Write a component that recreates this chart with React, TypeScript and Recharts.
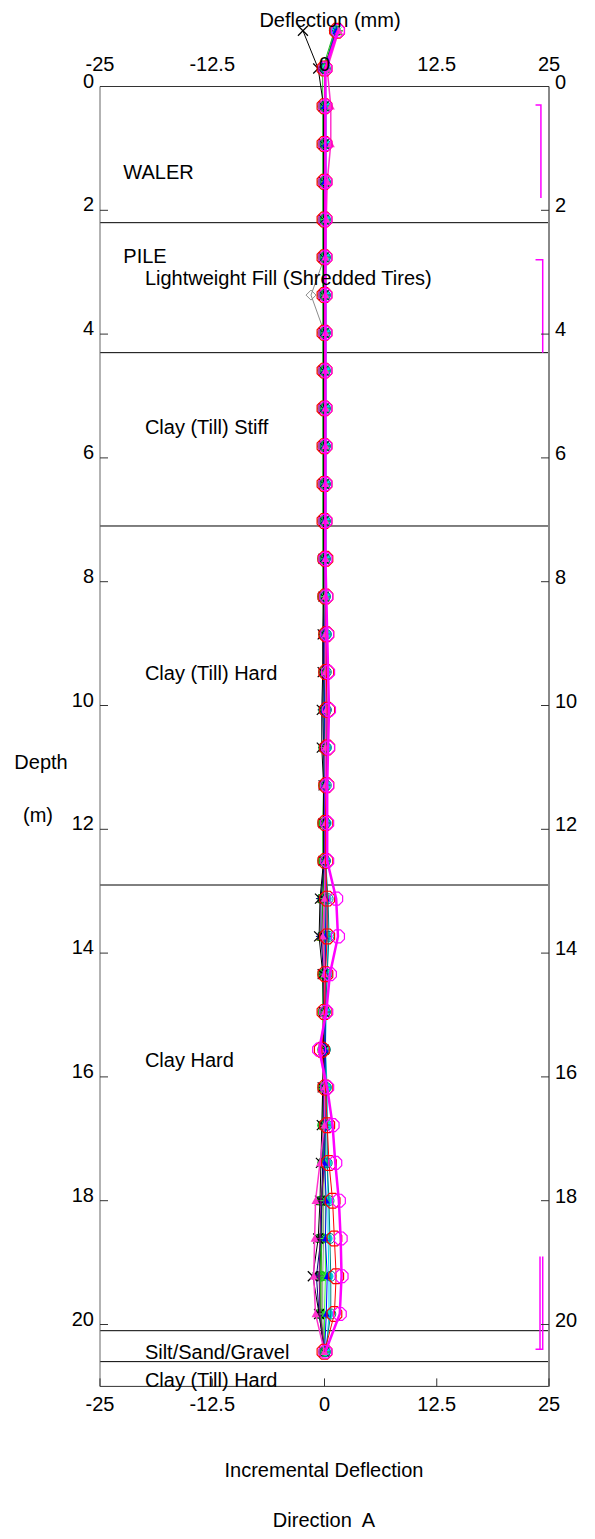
import React from 'react';
import { ScatterChart, Scatter, XAxis, YAxis, ReferenceLine, ReferenceDot } from 'recharts';

// ---------- data ----------
const DEPTHS = [-0.9, -0.29, 0.32, 0.93, 1.54, 2.15, 2.76, 3.37, 3.98, 4.59, 5.2, 5.81, 6.42, 7.02, 7.63, 8.24, 8.85, 9.46, 10.07, 10.68, 11.29, 11.9, 12.51, 13.12, 13.73, 14.34, 14.95, 15.56, 16.17, 16.78, 17.39, 18.0, 18.61, 19.22, 19.83, 20.44];

const X_TICKS = [-25, -12.5, 0, 12.5, 25];
const Y_TICKS = [0, 2, 4, 6, 8, 10, 12, 14, 16, 18, 20];

const LAYER_BOUNDS = [2.2, 4.3, 7.1, 12.9, 20.1, 20.6];
const LAYER_NAMES = ['WALER', 'PILE', 'Lightweight Fill (Shredded Tires)', 'Clay (Till) Stiff', 'Clay (Till) Hard', 'Clay Hard', 'Silt/Sand/Gravel', 'Clay (Till) Hard'];
const LAYER_LABEL_DEPTHS = [1.38, 2.74, 3.1, 5.5, 9.47, 15.73, 20.44, 20.9];
const LAYER_LABEL_X = [-22.4, -22.4, -20, -20, -20, -20, -20, -20];

const S_RED = [1.4, 0.0, 0.0, 0.0, 0.0, 0.0, 0.0, 0.0, 0.0, 0.0, 0.0, 0.0, 0.0, 0.0, 0.1, 0.1, 0.2, 0.2, 0.3, 0.3, 0.2, 0.1, 0.1, 0.3, 0.3, 0.1, 0.0, -0.3, 0.1, 0.3, 0.5, 0.9, 1.1, 1.3, 1.1, 0.0];
const S_MAGENTA = [1.5, 0.1, 0.1, 0.1, 0.1, 0.1, 0.1, 0.1, 0.1, 0.1, 0.1, 0.1, 0.1, 0.1, 0.1, 0.2, 0.3, 0.4, 0.5, 0.4, 0.3, 0.3, 0.3, 1.3, 1.5, 0.6, 0.2, -0.6, 0.3, 0.9, 1.2, 1.6, 1.8, 1.9, 1.7, 0.1];
const S_GREEN = [1.1, -0.2, -0.2, -0.2, -0.2, -0.2, -0.2, -0.2, -0.2, -0.2, -0.2, -0.2, -0.2, -0.2, -0.2, -0.2, -0.1, -0.1, -0.1, -0.1, -0.1, -0.2, -0.2, -0.2, -0.1, -0.2, -0.2, -0.2, -0.2, -0.2, -0.2, -0.3, -0.3, -0.4, -0.4, -0.1];
const S_CYAN = [1.2, 0.1, 0.2, 0.2, 0.2, 0.2, 0.2, 0.2, 0.2, 0.2, 0.2, 0.2, 0.2, 0.2, 0.2, 0.2, 0.3, 0.2, 0.3, 0.3, 0.2, 0.3, 0.2, 0.3, 0.4, 0.3, 0.2, 0.1, 0.3, 0.3, 0.3, 0.4, 0.4, 0.5, 0.5, 0.2];
const S_BLUE = [1.3, 0.1, 0.0, 0.1, 0.0, 0.1, 0.0, 0.1, 0.0, 0.0, 0.0, 0.0, 0.0, 0.0, 0.0, 0.1, 0.0, 0.1, 0.0, 0.1, 0.0, 0.0, 0.0, 0.2, 0.1, 0.1, 0.0, 0.1, 0.0, 0.1, 0.0, 0.2, 0.1, 0.3, 0.2, 0.0];
const S_BLACK = [-2.4, -0.7, -0.1, -0.1, -0.1, -0.1, -0.1, -0.1, -0.1, -0.1, -0.1, -0.1, -0.1, -0.1, -0.1, -0.1, -0.2, -0.2, -0.3, -0.3, -0.1, -0.1, -0.1, -0.5, -0.6, -0.2, -0.1, -0.1, -0.2, -0.3, -0.4, -0.5, -0.7, -1.3, -0.6, 0.0];
const S_GRAY = [1.1, 0.0, 0.0, 0.0, 0.0, 0.0, 0.0, -1.5, 0.0, 0.0, 0.0, 0.0, 0.0, 0.0, 0.0, 0.0, 0.0, 0.0, 0.0, 0.0, 0.0, 0.0, 0.0, 0.0, 0.0, 0.0, 0.0, 0.0, 0.0, 0.0, 0.0, -0.1, -0.1, -0.2, -0.2, 0.0];
const S_DKGREEN = [1.2, 0.0, 0.0, -0.1, 0.0, 0.0, -0.1, 0.0, 0.0, -0.1, 0.0, 0.0, 0.0, -0.1, 0.0, 0.0, -0.1, 0.0, 0.0, 0.0, -0.1, 0.0, 0.0, -0.2, -0.2, -0.1, 0.0, 0.0, -0.1, 0.0, -0.1, -0.3, -0.4, -0.5, -0.5, 0.0];
const S_OLIVE = [1.4, 0.0, 0.1, 0.0, 0.1, 0.0, 0.0, 0.0, 0.0, 0.0, 0.0, 0.0, 0.0, 0.0, 0.0, 0.0, 0.0, 0.0, 0.1, 0.0, 0.0, 0.0, 0.0, -0.2, -0.3, 0.0, 0.0, 0.0, 0.0, 0.0, 0.0, -0.3, -0.3, -0.4, -0.4, 0.0];
const S_PURPLE = [1.5, 0.1, 0.1, 0.1, 0.1, 0.1, 0.1, 0.1, 0.1, 0.1, 0.1, 0.1, 0.1, 0.1, 0.1, 0.1, 0.1, 0.1, 0.2, 0.1, 0.1, 0.1, 0.1, 0.1, 0.2, 0.1, 0.1, 0.1, 0.1, 0.1, 0.0, -0.4, -0.5, -0.6, -0.5, 0.0];
const S_NAVY = [1.3, 0.0, 0.0, 0.0, 0.0, 0.0, 0.0, 0.0, 0.0, 0.0, 0.0, 0.0, 0.0, 0.0, 0.0, 0.0, -0.1, -0.1, -0.2, -0.1, 0.0, 0.0, 0.0, -0.4, -0.4, -0.1, 0.0, 0.0, -0.1, -0.1, -0.2, -0.3, -0.4, -0.9, -0.6, 0.0];
const S_TEAL = [1.2, 0.1, 0.1, 0.1, 0.1, 0.1, 0.1, 0.1, 0.1, 0.1, 0.1, 0.1, 0.1, 0.1, 0.1, 0.1, 0.2, 0.2, 0.2, 0.2, 0.2, 0.1, 0.1, 0.4, 0.5, 0.3, 0.1, 0.1, 0.2, 0.3, 0.3, 0.5, 0.6, 0.7, 0.7, 0.1];
const S_PINK = [1.6, 0.3, 0.7, 0.7, 0.3, 0.2, 0.1, 0.1, 0.1, 0.1, 0.1, 0.1, 0.1, 0.1, 0.1, 0.1, 0.1, 0.1, 0.2, 0.1, 0.1, 0.1, 0.1, 0.0, -0.2, 0.0, 0.0, -0.4, 0.0, 0.0, -0.5, -1.0, -1.1, -1.2, -1.0, 0.0];
const S_LIME = [1.5, 0.0, 0.0, 0.0, 0.0, 0.0, 0.0, 0.0, 0.0, 0.0, 0.0, 0.0, 0.0, 0.0, 0.0, 0.0, 0.1, 0.1, 0.1, 0.1, 0.0, 0.0, 0.0, 0.1, 0.1, 0.1, 0.0, 0.1, 0.1, 0.1, 0.1, 0.1, 0.1, 0.1, 0.0, 0.0];

// range brackets on the right side
const BRACKET1_X = [23.5, 24.1, 24.1];
const BRACKET1_D = [0.3, 0.3, 1.8];
const BRACKET2_X = [23.5, 24.3, 24.3];
const BRACKET2_D = [2.8, 2.8, 4.3];
const BRACKET3A_X = [24.0, 24.0];
const BRACKET3A_D = [18.9, 20.4];
const BRACKET3B_X = [23.5, 24.3, 24.3];
const BRACKET3B_D = [20.4, 20.4, 18.9];

const SERIES = [
  { key: 'gray', values: S_GRAY, color: '#8c8c8c', marker: 'diamond', r: 5, w: 1 },
  { key: 'olive', values: S_OLIVE, color: '#808000', marker: 'triangleHollow', r: 5, w: 1 },
  { key: 'dkgreen', values: S_DKGREEN, color: '#007a00', marker: 'square', r: 5, w: 1 },
  { key: 'green', values: S_GREEN, color: '#22c022', marker: 'circle', r: 5.5, w: 1 },
  { key: 'cyan', values: S_CYAN, color: '#00d8e8', marker: 'circle', r: 4.5, w: 1 },
  { key: 'navy', values: S_NAVY, color: '#000080', marker: 'star', r: 5, w: 1 },
  { key: 'black', values: S_BLACK, color: '#000000', marker: 'x', r: 5, w: 1 },
  { key: 'purple', values: S_PURPLE, color: '#800080', marker: 'plus', r: 5, w: 1 },
  { key: 'lime', values: S_LIME, color: '#33ff33', marker: 'star', r: 5, w: 1 },
  { key: 'teal', values: S_TEAL, color: '#008080', marker: 'circleHollow', r: 5, w: 1 },
  { key: 'blue', values: S_BLUE, color: '#0000ff', marker: 'triangle', r: 3.5, w: 1 },
  { key: 'pink', values: S_PINK, color: '#ff33cc', marker: 'triangle', r: 4, w: 1.5 },
  { key: 'red', values: S_RED, color: '#ff0000', marker: 'octagon', r: 8, w: 1 },
  { key: 'magenta', values: S_MAGENTA, color: '#ff00ff', marker: 'octagon', r: 7, w: 2.5 },
];

const toPoints = (xs: number[], ds: number[]) => xs.map((x, i) => ({ x, y: ds[i] }));

// ---------- marker shapes ----------
function Marker(props: any) {
  const { cx, cy, kind, color, r } = props;
  if (cx == null || cy == null || isNaN(cx) || isNaN(cy)) return <g />;
  switch (kind) {
    case 'octagon': {
      const pts = [];
      for (let k = 0; k < 8; k++) {
        const a = ((k * 45 + 22.5) * Math.PI) / 180;
        pts.push(`${cx + r * Math.cos(a)},${cy + r * Math.sin(a)}`);
      }
      return <polygon points={pts.join(' ')} fill="none" stroke={color} strokeWidth={1.2} />;
    }
    case 'circle':
      return <circle cx={cx} cy={cy} r={r} fill={color} stroke="none" />;
    case 'circleHollow':
      return <circle cx={cx} cy={cy} r={r} fill="none" stroke={color} strokeWidth={1} />;
    case 'triangle':
      return <polygon points={`${cx},${cy - r} ${cx + r},${cy + r * 0.8} ${cx - r},${cy + r * 0.8}`} fill={color} />;
    case 'triangleHollow':
      return <polygon points={`${cx},${cy - r} ${cx + r},${cy + r * 0.8} ${cx - r},${cy + r * 0.8}`} fill="none" stroke={color} />;
    case 'square':
      return <rect x={cx - r * 0.8} y={cy - r * 0.8} width={r * 1.6} height={r * 1.6} fill="none" stroke={color} />;
    case 'diamond':
      return <polygon points={`${cx},${cy - r} ${cx + r},${cy} ${cx},${cy + r} ${cx - r},${cy}`} fill="none" stroke={color} />;
    case 'x':
      return (
        <g stroke={color} strokeWidth={1.2}>
          <line x1={cx - r} y1={cy - r} x2={cx + r} y2={cy + r} />
          <line x1={cx - r} y1={cy + r} x2={cx + r} y2={cy - r} />
        </g>
      );
    case 'plus':
      return (
        <g stroke={color} strokeWidth={1.2}>
          <line x1={cx - r} y1={cy} x2={cx + r} y2={cy} />
          <line x1={cx} y1={cy - r} x2={cx} y2={cy + r} />
        </g>
      );
    case 'star':
      return (
        <g stroke={color} strokeWidth={1}>
          <line x1={cx - r} y1={cy} x2={cx + r} y2={cy} />
          <line x1={cx} y1={cy - r} x2={cx} y2={cy + r} />
          <line x1={cx - r * 0.7} y1={cy - r * 0.7} x2={cx + r * 0.7} y2={cy + r * 0.7} />
          <line x1={cx - r * 0.7} y1={cy + r * 0.7} x2={cx + r * 0.7} y2={cy - r * 0.7} />
        </g>
      );
    default:
      return <g />;
  }
}

const FONT = 20;
const fmt = (v: number) => String(v);

const LeftTick = (p: any) => (
  <g>
    <line x1={p.x} x2={p.x + 8} y1={p.y} y2={p.y} stroke="#333" />
    <text x={p.x - 6} y={p.y + 1} textAnchor="end" fontSize={FONT} fill="#000">{fmt(p.payload.value)}</text>
  </g>
);
const RightTick = (p: any) => (
  <g>
    <line x1={p.x - 8} x2={p.x} y1={p.y} y2={p.y} stroke="#333" />
    <text x={p.x + 6} y={p.y + 2} textAnchor="start" fontSize={FONT} fill="#000">{fmt(p.payload.value)}</text>
  </g>
);
const TopTick = (p: any) => (
  <g>
    <text x={p.x} y={p.y - 16} textAnchor="middle" fontSize={FONT} fill="#000">{fmt(p.payload.value)}</text>
  </g>
);
const BottomTick = (p: any) => (
  <g>
    <line x1={p.x} x2={p.x} y1={p.y - 8} y2={p.y} stroke="#333" />
    <text x={p.x} y={p.y + 25} textAnchor="middle" fontSize={FONT} fill="#000">{fmt(p.payload.value)}</text>
  </g>
);

const textStyle = (cx: number, cy: number): React.CSSProperties => ({
  position: 'absolute',
  left: cx,
  top: cy,
  transform: 'translate(-50%, -50%)',
  fontSize: FONT,
  lineHeight: 1,
  whiteSpace: 'pre',
  color: '#000',
});

export default function App() {
  const base = DEPTHS;
  return (
    <div
      style={{
        position: 'absolute',
        left: 0,
        top: 0,
        width: 595,
        height: 1539,
        background: '#fff',
        fontFamily: '"Liberation Sans", Arial, sans-serif',
      }}
    >
      <style>{`.recharts-scatter, .recharts-layer[clip-path], svg g[clip-path] { clip-path: none !important; }`}</style>
      <ScatterChart width={595} height={1539} margin={{ top: 56.5, right: 0, bottom: 112.6, left: 0 }}>
        <XAxis
          xAxisId="bottom"
          type="number"
          dataKey="x"
          domain={[-25, 25]}
          ticks={X_TICKS}
          interval={0}
          allowDataOverflow
          orientation="bottom"
          height={40}
          tickSize={0}
          tickMargin={0}
          tickLine={false}
          axisLine={{ stroke: '#333', strokeWidth: 1 }}
          tick={<BottomTick />}
        />
        <XAxis
          xAxisId="top"
          type="number"
          dataKey="x"
          domain={[-25, 25]}
          ticks={X_TICKS}
          interval={0}
          allowDataOverflow
          orientation="top"
          height={30}
          tickSize={0}
          tickMargin={0}
          tickLine={false}
          axisLine={{ stroke: '#333', strokeWidth: 1 }}
          tick={<TopTick />}
        />
        <YAxis
          yAxisId="left"
          type="number"
          dataKey="y"
          domain={[0, 21]}
          ticks={Y_TICKS}
          interval={0}
          reversed
          allowDataOverflow
          orientation="left"
          width={100}
          tickSize={0}
          tickMargin={0}
          tickLine={false}
          axisLine={{ stroke: '#666', strokeWidth: 1 }}
          tick={<LeftTick />}
        />
        <YAxis
          yAxisId="right"
          type="number"
          dataKey="y"
          domain={[0, 21]}
          ticks={Y_TICKS}
          interval={0}
          reversed
          allowDataOverflow
          orientation="right"
          width={46}
          tickSize={0}
          tickMargin={0}
          tickLine={false}
          axisLine={{ stroke: '#888', strokeWidth: 2 }}
          tick={<RightTick />}
        />

        {LAYER_BOUNDS.map((d) => (
          <ReferenceLine key={`lb${d}`} xAxisId="bottom" yAxisId="left" y={d} stroke="#000" strokeWidth={1} />
        ))}

        {LAYER_NAMES.map((name, i) => (
          <ReferenceDot
            key={`ln${i}`}
            xAxisId="bottom"
            yAxisId="left"
            x={LAYER_LABEL_X[i]}
            y={LAYER_LABEL_DEPTHS[i]}
            r={0}
            fill="none"
            stroke="none"
            label={{ value: name, position: 'right', offset: 0, fontSize: FONT, fill: '#000' }}
          />
        ))}

        {[
          [BRACKET1_X, BRACKET1_D],
          [BRACKET2_X, BRACKET2_D],
          [BRACKET3A_X, BRACKET3A_D],
          [BRACKET3B_X, BRACKET3B_D],
        ].map(([xs, ds], i) => (
          <Scatter
            key={`br${i}`}
            xAxisId="bottom"
            yAxisId="left"
            data={toPoints(xs as number[], ds as number[])}
            line={{ stroke: '#ff00ff', strokeWidth: 1.5 }}
            lineType="joint"
            shape={() => <g />}
            fill="#ff00ff"
            isAnimationActive={false}
            legendType="none"
          />
        ))}

        {SERIES.map((s) => (
          <Scatter
            key={s.key}
            xAxisId="bottom"
            yAxisId="left"
            data={toPoints(s.values, base)}
            fill={s.color}
            line={{ stroke: s.color, strokeWidth: s.w }}
            lineType="joint"
            shape={(p: any) => <Marker cx={p.cx} cy={p.cy} kind={s.marker} color={s.color} r={s.r} />}
            isAnimationActive={false}
            legendType="none"
          />
        ))}
      </ScatterChart>

      <div style={textStyle(330, 20)}>Deflection (mm)</div>
      <div style={textStyle(41, 762)}>Depth</div>
      <div style={textStyle(38, 815)}>(m)</div>
      <div style={textStyle(324, 1470)}>Incremental Deflection</div>
      <div style={textStyle(324, 1520)}>{'Direction  A'}</div>
    </div>
  );
}
